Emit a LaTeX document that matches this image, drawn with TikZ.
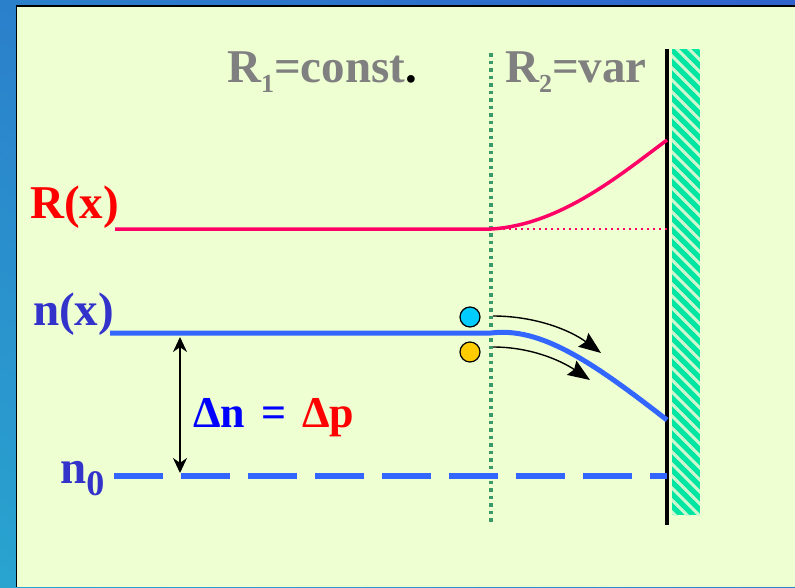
\documentclass[tikz,border=0pt]{standalone}
\usepackage{fontspec}
\setmainfont{Liberation Serif}
\newfontfamily\slidefont{Liberation Serif}
\usepackage{tikz}
\usetikzlibrary{arrows.meta, positioning, calc, shadings}
\definecolor{slidetop}{HTML}{2F62CC}
\definecolor{slideleft}{HTML}{2B80CB}
\definecolor{slidelow}{HTML}{29A4CF}
\definecolor{panelbg}{HTML}{EEFFD2}
\definecolor{labgray}{HTML}{808080}
\definecolor{rcurve}{HTML}{FF0066}
\definecolor{nlabel}{HTML}{3333CC}
\definecolor{ncurve}{HTML}{3366FF}
\definecolor{gridgreen}{HTML}{3C9A68}
\definecolor{wallmint}{HTML}{00E6A2}
\definecolor{wallstripe}{HTML}{CDF7CF}
\definecolor{holecyan}{HTML}{00CCFF}
\definecolor{elecyellow}{HTML}{FFCC00}

\begin{document}
\begin{tikzpicture}[x=1pt, y=-1pt,
  biglbl/.style={font=\slidefont\fontsize{47}{50}\selectfont\bfseries, inner sep=0pt, anchor=base west},
  carrier/.style={circle, draw, line width=1.2pt, minimum size=20pt, inner sep=0pt},
  flowarrow/.style={line width=1.4pt, -{Stealth[length=22pt, width=17pt, inset=3pt]}}]
  \useasboundingbox (0,0) rectangle (795,587);

  %% Slide background and panel
  \shade[upper left=slideleft, upper right=slidetop, lower left=slidelow, lower right=slideleft]
    (0,0) rectangle (795,587);
  \fill[panelbg] (17,6) rectangle (795,587);
  \draw[line width=1.5pt] (16.5,587) -- (16.5,6) -- (795,6);

  %% Region titles
  \node[biglbl, labgray] (r1) at (227,82)
    {R\raisebox{-10pt}{\fontsize{26}{26}\selectfont 1}=const\textcolor{black}{.}};
  \node[biglbl, labgray] (r2) at (505,82)
    {R\raisebox{-10pt}{\fontsize{26}{26}\selectfont 2}=var};

  %% Boundary between the regions
  \coordinate (btop) at (491,53);
  \coordinate (bbot) at (491,522);
  \draw[gridgreen, line width=3.5pt, dash pattern=on 3.5pt off 4pt] (btop) -- (bbot);

  %% Wall with hatching
  \begin{scope}
    \clip (672,49) rectangle (700,515);
    \fill[wallmint] (672,49) rectangle (700,515);
    \foreach \k in {0,...,44} {
      \draw[wallstripe, line width=3pt] (662,10+12*\k) -- ++(45,45);
    }
  \end{scope}
  \coordinate (wtop) at (667,49);
  \coordinate (wbot) at (667,525);
  \draw[line width=4pt] (wtop) -- (wbot);

  %% R(x)
  \node[biglbl, red] (rlab) at (30,218) {R(x)};
  \coordinate (r0) at (115,229);
  \coordinate (rb) at (491,229);
  \coordinate (rw) at (667,140);
  \draw[rcurve, line width=3.5pt] (r0) -- (rb) .. controls (560,225) and (620,175) .. (rw);
  \draw[rcurve, line width=2pt, dash pattern=on 2pt off 4pt] (rb) -- (667,229);

  %% n(x)
  \node[biglbl, nlabel] (nlab) at (33,325) {n(x)};
  \coordinate (n0) at (110,333);
  \coordinate (nb) at (491,333);
  \coordinate (nw) at (667,420);
  \draw[ncurve, line width=5pt] (n0) -- (nb) .. controls (540,327) and (590,360) .. (nw);

  %% equilibrium level n_0
  \node[biglbl, nlabel] (eqlab) at (60,483)
    {n\raisebox{-12pt}{\fontsize{36}{36}\selectfont 0}};
  \coordinate (e0) at (114,476);
  \coordinate (ew) at (667,476);
  \draw[ncurve, line width=5.5pt, dash pattern=on 49pt off 18pt] (e0) -- (ew);

  %% excess carriers
  \coordinate (dtop) at (180,337);
  \coordinate (dbot) at (180,473);
  \draw[line width=2pt, {Stealth[length=15pt, width=14pt]}-{Stealth[length=15pt, width=14pt]}]
    (dtop) -- (dbot);
  \node[font=\slidefont\fontsize{44}{46}\selectfont\bfseries, inner sep=0pt, anchor=base west] (dlab) at (193,427)
    {\textcolor{blue}{Δn}\hspace{16pt}\textcolor{blue}{=}\hspace{16pt}\textcolor{red}{Δp}};

  %% carriers flowing to the wall
  \node[carrier, fill=holecyan] (hole) at (470,317) {};
  \node[carrier, fill=elecyellow] (elec) at (470,352) {};
  \coordinate (h0) at (493,316);
  \coordinate (h1) at (601,353);
  \coordinate (e1) at (493,347);
  \coordinate (e2) at (590,380);
  \draw[flowarrow] (h0) .. controls (535,316) and (570,330) .. (h1);
  \draw[flowarrow] (e1) .. controls (530,347) and (560,360) .. (e2);
\end{tikzpicture}
\end{document}
